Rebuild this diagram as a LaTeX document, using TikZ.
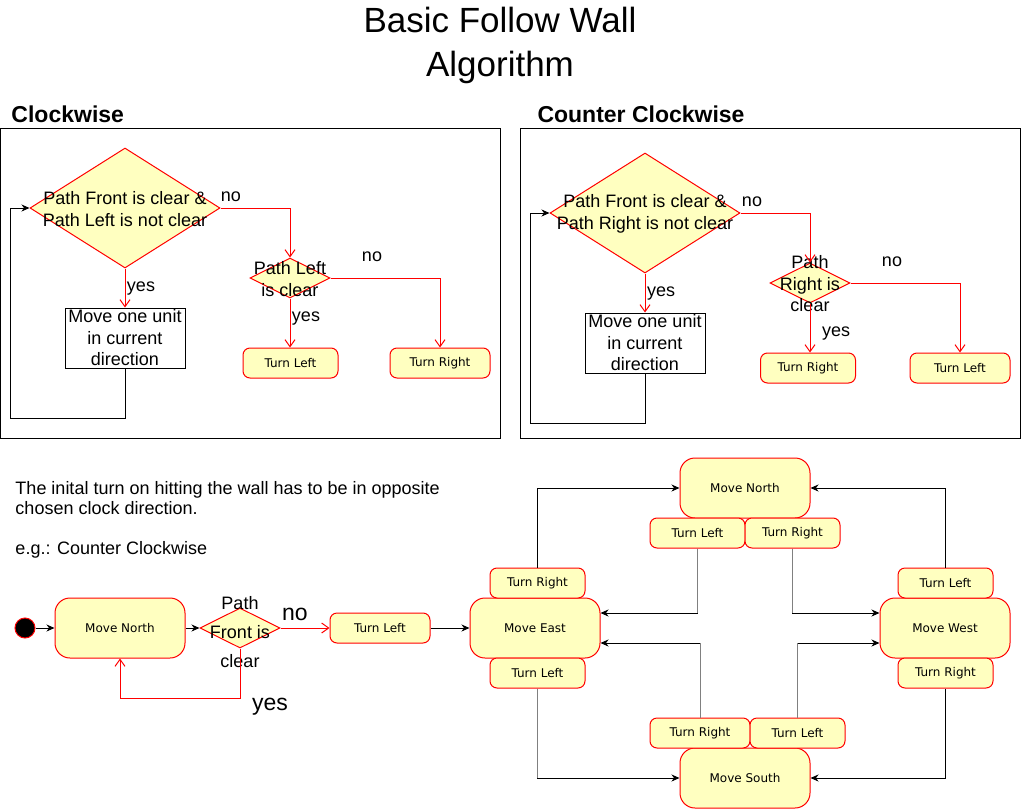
\documentclass[tikz,border=0pt]{standalone}
\usepackage{fontspec}
\setmainfont{Liberation Sans}
\newfontfamily\boxfont{DejaVu Sans}
\usetikzlibrary{arrows.meta,shapes.geometric}
\definecolor{notefill}{HTML}{FFFFC0}

\begin{document}
\begin{tikzpicture}[x=1pt, y=-1pt, line width=1pt, >={Stealth[length=8pt,width=7pt,inset=2.5pt]},
		redarrow/.style={red, -{Straight Barb[length=7pt,width=10pt]}},
		txt/.style={inner sep=0pt, align=center, font=\fontsize{18}{21.5}\selectfont},
		bigtxt/.style={inner sep=0pt, font=\fontsize{23}{27}\selectfont},
		decision/.style 2 args={diamond, draw=red, fill=notefill, inner sep=0pt, minimum width=#1, minimum height=#2},
		state/.style={draw=red, fill=notefill, rounded corners=15pt, minimum width=130pt, minimum height=60pt, inner sep=0pt, font=\boxfont\fontsize{12}{14}\selectfont},
		turnbox/.style={draw=red, fill=notefill, rounded corners=7pt, minimum width=#1, minimum height=30pt, inner sep=0pt, font=\boxfont\fontsize{12}{14}\selectfont},
		turnbox/.default=95pt,
		actionbox/.style={draw, fill=white, minimum width=120pt, minimum height=60pt, inner sep=0pt, align=center, font=\fontsize{18}{21.5}\selectfont},
	]
		\useasboundingbox (0,0) rectangle (1021,809);
		\node[align=center, inner sep=0pt, font=\fontsize{35}{44}\selectfont] (title) at (500,45) {Basic Follow Wall\\Algorithm};

		% clockwise
		\node[anchor=west, inner sep=0pt, font=\bfseries\fontsize{23}{27}\selectfont] (cwhead) at (11,114) {Clockwise};
		\draw (0,128) rectangle (500,438);
		\node[decision={190pt}{120pt}] (cwfront) at (125,208) {};
		\node[txt] (cwfronttext) at (125,209) {Path Front is clear \&\\Path Left is not clear};
		\node[decision={80pt}{40pt}] (cwleft) at (290,278) {};
		\node[txt] (cwlefttext) at (290,279) {Path Left\\is clear};
		\node[actionbox] (cwmove) at (125,338) {Move one unit\\in current\\direction};
		\node[turnbox] (cwturnl) at (290.5,363) {Turn Left};
		\node[turnbox=100pt] (cwturnr) at (440,363) {Turn Right};
		\draw[redarrow] (cwfront.east) -| (cwleft.north);
		\draw[redarrow] (cwleft.east) -| (cwturnr.north);
		\draw[redarrow] (cwleft.south) -- (cwleft.south |- cwturnl.north);
		\draw[redarrow] (cwfront.south) -- (cwmove.north);
		\coordinate (cwloop) at (10,418);
		\draw[->] (cwmove.south) |- (cwloop) |- (cwfront.west);
		\node[txt] (cwno) at (231,197) {no};
		\node[txt] (cwyes) at (141,289) {yes};
		\node[txt] (cwleftno) at (372,257) {no};
		\node[txt] (cwleftyes) at (306,319) {yes};

		% counter clockwise
		\node[anchor=west, inner sep=0pt, font=\bfseries\fontsize{23}{27}\selectfont] (cchead) at (537,114) {Counter Clockwise};
		\draw (520,128) rectangle (1020,438);
		\node[decision={190pt}{120pt}] (ccfront) at (645,213) {};
		\node[txt] (ccfronttext) at (645,214) {Path Front is clear \&\\Path Right is not clear};
		\node[decision={80pt}{40pt}] (ccright) at (810,283) {};
		\node[txt] (ccrighttext) at (810,284) {Path\\Right is\\clear};
		\node[actionbox] (ccmove) at (645,343) {Move one unit\\in current\\direction};
		\node[turnbox] (ccturnr) at (808,368) {Turn Right};
		\node[turnbox=100pt] (ccturnl) at (960,368) {Turn Left};
		\draw[redarrow] (ccfront.east) -| (ccright.north);
		\draw[redarrow] (ccright.east) -| (ccturnl.north);
		\draw[redarrow] (ccright.south) -- (ccright.south |- ccturnr.north);
		\draw[redarrow] (ccfront.south) -- (ccmove.north);
		\coordinate (ccloop) at (530,423);
		\draw[->] (ccmove.south) |- (ccloop) |- (ccfront.west);
		\node[txt] (ccno) at (752,202) {no};
		\node[txt] (ccyes) at (661,294) {yes};
		\node[txt] (ccrightno) at (892,262) {no};
		\node[txt] (ccrightyes) at (836,334) {yes};

		% note
		\node[anchor=west, align=left, inner sep=0pt, font=\fontsize{18}{20}\selectfont] (note) at (15,520)
			{The inital turn on hitting the wall has to be in opposite\\chosen clock direction.\\[20pt]e.g.: Counter Clockwise};

		% first wall hit
		\node[circle, draw=red, fill=black, minimum size=20pt, inner sep=0pt] (start) at (25,628) {};
		\node[state] (north0) at (120,628) {Move North};
		\node[decision={80pt}{40pt}] (frontq) at (240,628) {};
		\node[txt, font=\fontsize{18}{29}\selectfont] (frontqtext) at (240,632) {Path\\Front is\\clear};
		\node[turnbox=100pt] (firstturn) at (380,628) {Turn Left};
		\node[bigtxt] (frontno) at (295,614) {no};
		\node[bigtxt] (frontyes) at (270,707) {yes};

		% directions
		\node[state] (north) at (745,488) {Move North};
		\node[state] (east) at (535,628) {Move East};
		\node[state] (west) at (945,628) {Move West};
		\node[state] (south) at (745,778) {Move South};
		\node[turnbox] (nl) at (697.5,533) {Turn Left};
		\node[turnbox] (nr) at (792.5,533) {Turn Right};
		\node[turnbox] (er) at (537.5,583) {Turn Right};
		\node[turnbox] (el) at (537.5,673) {Turn Left};
		\node[turnbox] (wl) at (945.5,583) {Turn Left};
		\node[turnbox] (wr) at (945.5,673) {Turn Right};
		\node[turnbox=100pt] (sr) at (700,733) {Turn Right};
		\node[turnbox] (sl) at (797.5,733) {Turn Left};

		\draw[->] (start) -- (north0);
		\draw[->] (north0) -- (frontq);
		\draw[redarrow] (frontq) -- (firstturn);
		\draw[redarrow] (frontq.south) -- ++(0,50) -| (north0.south);
		\draw[->] (firstturn) -- (east);

		\coordinate (eastin1) at ([yshift=15pt]east.east);
		\coordinate (eastin2) at ([yshift=-15pt]east.east);
		\coordinate (westin1) at ([yshift=15pt]west.west);
		\coordinate (westin2) at ([yshift=-15pt]west.west);
		\draw[->] (er.north) |- (north.west);
		\draw[->] (wl.north) |- (north.east);
		\draw[->] (wr.south) |- (south.east);
		\draw[->] (el.south) |- (south.west);
		\draw[->] (nl.south) |- (eastin1);
		\draw[->] (nr.south) |- (westin1);
		\draw[->] (sr.north) |- (eastin2);
		\draw[->] (sl.north) |- (westin2);
		\foreach \t/\a/\c in {nl/south/eastin1, nr/south/westin1, sr/north/eastin2, sl/north/westin2, el/south/south.west}
			\draw[gray] (\t.\a) -- (\t.\a |- \c);
	\end{tikzpicture}
\end{document}
